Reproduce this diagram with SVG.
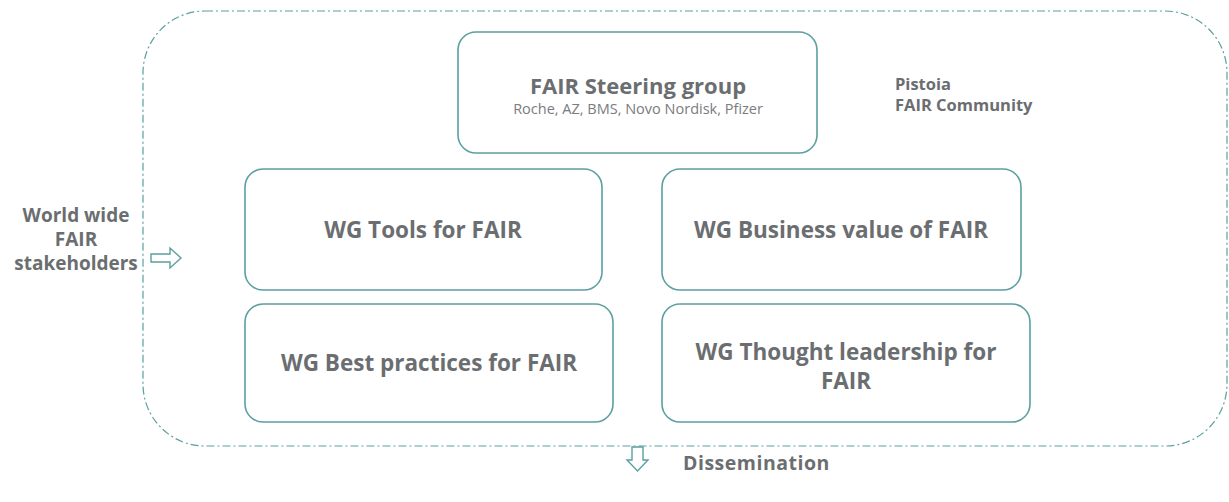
<svg xmlns="http://www.w3.org/2000/svg" width="1229" height="502" viewBox="0 0 1229 502">
<style>
.box{fill:#fff;stroke:#5c9fa0;stroke-width:1.6}
.t{font-family:"Open Sans","Liberation Sans",sans-serif;font-weight:bold;fill:#6b6e70;text-anchor:middle}
.l{text-anchor:start}
.s{font-family:"Open Sans","Liberation Sans",sans-serif;fill:#7a7c7e;text-anchor:middle}
.arr{fill:#fff;stroke:#5c9fa0;stroke-width:1.4}
</style>
<rect width="1229" height="502" fill="#fff"/>
<g id="community">
<rect x="143" y="11" width="1084" height="435" rx="62" fill="none" stroke="#5c9fa0" stroke-width="1.2" stroke-dasharray="8,3,2,3"/>
<text class="t l" x="895" y="90" font-size="16.5">Pistoia</text>
<text class="t l" x="895" y="111" font-size="16.5">FAIR Community</text>
</g>
<g id="steering">
<rect class="box" x="458" y="32" width="359" height="121" rx="18"/>
<text class="t" x="638" y="94" font-size="22">FAIR Steering group</text>
<text class="s" x="638" y="114" font-size="14.5">Roche, AZ, BMS, Novo Nordisk, Pfizer</text>
</g>
<g id="wg-tools">
<rect class="box" x="245" y="169" width="357" height="121" rx="18"/>
<text class="t" x="423" y="238" font-size="22.5">WG Tools for FAIR</text>
</g>
<g id="wg-business">
<rect class="box" x="662" y="169" width="359" height="121" rx="18"/>
<text class="t" x="841" y="238" font-size="22.5">WG Business value of FAIR</text>
</g>
<g id="wg-best">
<rect class="box" x="245" y="304" width="368" height="118" rx="18"/>
<text class="t" x="429" y="371" font-size="22.5">WG Best practices for FAIR</text>
</g>
<g id="wg-thought">
<rect class="box" x="662" y="304" width="368" height="118" rx="18"/>
<text class="t" x="846" y="360" font-size="22.5">WG Thought leadership for</text>
<text class="t" x="846" y="389" font-size="22.5">FAIR</text>
</g>
<g id="stakeholders">
<text class="t" x="76" y="222" font-size="19">World wide</text>
<text class="t" x="76" y="246" font-size="19">FAIR</text>
<text class="t" x="76" y="270" font-size="19">stakeholders</text>
</g>
<g id="dissemination">
<text class="t l" x="683" y="470" font-size="19.5" letter-spacing="0.5">Dissemination</text>
</g>
<g id="connectors">
<path class="arr" d="M151,254 H170 V248 L181,258 L170,268 V262 H151 Z"/>
<path class="arr" d="M632,447 V460 H627 L637.5,471 L648,460 H643 V447 Z"/>
</g>
</svg>
